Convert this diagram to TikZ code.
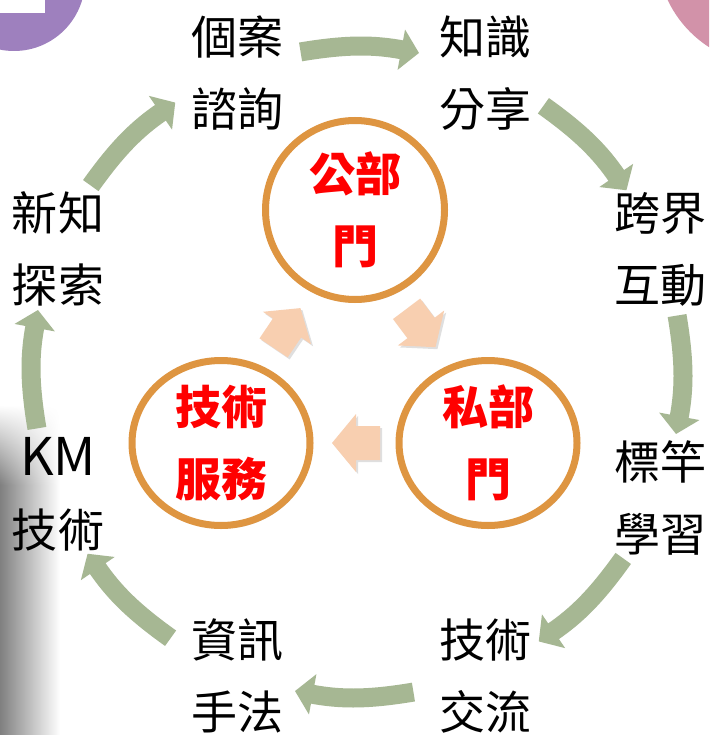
\documentclass[tikz,border=0pt]{standalone}
\usepackage{fontspec}
\usepackage{tikz}
\usetikzlibrary{shapes.geometric, arrows.meta, shadows, shadings, calc}
\newfontfamily\cjk{Noto Sans CJK TC}
\definecolor{ringgreen}{HTML}{A6B793}
\definecolor{huborange}{HTML}{DE9541}
\definecolor{peach}{HTML}{F8CFB0}
\definecolor{cornerpurple}{HTML}{9E80BE}
\definecolor{cornerpink}{HTML}{D292A9}
\definecolor{hubred}{HTML}{FF0000}

\begin{document}
\begin{tikzpicture}[x=1pt, y=1pt,
  outertext/.style={font=\cjk\fontsize{46}{72}\selectfont, align=center, inner sep=0pt},
  hub/.style={circle, draw=huborange, line width=7pt, fill=white, minimum size=179pt, inner sep=0pt,
    font=\cjk\bfseries\fontsize{46}{72}\selectfont, text=hubred, align=center,
    drop shadow={opacity=0.3, shadow xshift=2pt, shadow yshift=-3pt}},
  lowhub/.style={hub, ellipse, minimum width=178pt, minimum height=165pt},
  flow/.style={fill=peach, drop shadow={opacity=0.25, shadow xshift=2pt, shadow yshift=-2pt}},
  ringarrow/.style={ringgreen, line width=19pt, -{Triangle[length=18pt, width=40pt]}}]

  % Frame
  \useasboundingbox (0,0) rectangle (709,-735);
  \clip (0,0) rectangle (709,-735);
  \fill[white] (0,0) rectangle (709,-735);

  % Leftover bits of the slide
  \shade[upper left=white, upper right=white, lower left=black!50, lower right=white] (0,-405) rectangle (60,-485);
  \shade[left color=black!50, right color=white] (0,-485) rectangle (60,-735);
  \fill[cornerpurple] (14,20) circle (71pt);
  \fill[white] (0,0) rectangle (45,-13);
  \fill[cornerpink] (770,48) circle (113pt);

  % Outer cycle
  \coordinate (ring) at (357,-372);
  \foreach \k in {0,...,7} {
    \pgfmathsetmacro{\angA}{100-45*\k}
    \pgfmathsetmacro{\angB}{79-45*\k}
    \coordinate (s\k) at ($(ring)+(\angA:325)$);
    \coordinate (e\k) at ($(ring)+(\angB:325)$);
    \draw[ringarrow] (s\k) to[bend left=10] (e\k);
  }

  % Outer steps
  \node[outertext] (consult) at (237,-73) {個案\\諮詢};
  \node[outertext] (share) at (485,-73) {知識\\分享};
  \node[outertext] (cross) at (660,-249) {跨界\\互動};
  \node[outertext] (bench) at (660,-498) {標竿\\學習};
  \node[outertext] (exchange) at (485,-676) {技術\\交流};
  \node[outertext] (infotool) at (237,-676) {資訊\\手法};
  \node[outertext] (kmtech) at (58,-494) {{\fontsize{52}{72}\selectfont KM}\\技術};
  \node[outertext] (explore) at (58,-249) {新知\\探索};

  % Inner cycle
  \foreach \x/\y/\ang in {287/-328/56, 421/-328/-53, 356/-443/180} {
    \begin{scope}[shift={(\x,\y)}, rotate=\ang]
      \fill[flow] (-24,-17) -- (0,-17) -- (0,-29) -- (24,0) -- (0,29) -- (0,17) -- (-24,17) -- cycle;
    \end{scope}
  }

  \node[hub] (public) at (355,-210) {公部\\門};
  \node[lowhub] (private) at (488,-443) {私部\\門};
  \node[lowhub] (service) at (221,-443) {技術\\服務};
\end{tikzpicture}
\end{document}
